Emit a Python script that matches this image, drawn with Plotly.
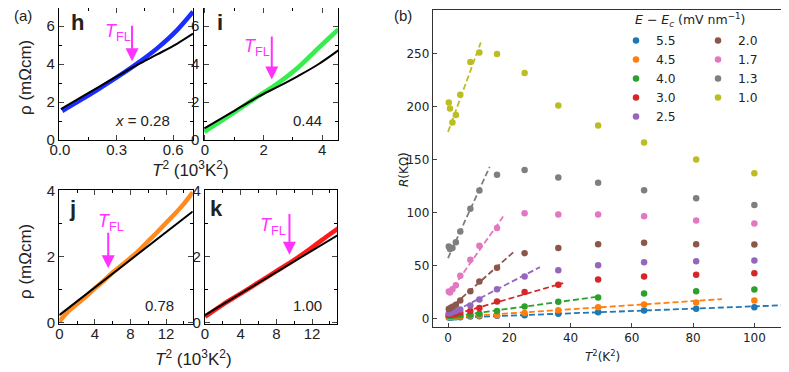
import plotly.graph_objects as go

# page is 789x372; the html body adds an 8px margin, so the figure is 8px smaller each way
OFF = 8
W, H = 789 - OFF, 372 - OFF

# ---- panel (a) data: rho vs T^2 ----
h_x = [0.012, 0.104, 0.207, 0.311, 0.414, 0.518, 0.622, 0.705]
h_rho = [1.53, 2.07, 2.7, 3.36, 4.06, 4.85, 5.8, 6.75]
h_fit_x = [0.005, 0.104, 0.207, 0.311, 0.414, 0.518, 0.622, 0.705]
h_fit = [1.62, 2.2, 2.8, 3.4, 3.98, 4.52, 5.08, 5.6]

i_x = [-0.02, 0.91, 1.82, 2.51, 3.19, 3.87, 4.55]
i_rho = [0.43, 1.36, 2.31, 3.01, 3.83, 4.84, 5.82]
i_fit_x = [-0.02, 0.91, 1.82, 2.51, 3.19, 3.87, 4.55]
i_fit = [0.61, 1.45, 2.28, 2.82, 3.38, 3.99, 4.72]

j_x = [0, 1, 2, 3, 4, 5, 6, 7, 8, 9, 10, 11, 12, 13, 14, 15]
j_rho = [0.03, 0.34, 0.57, 0.79, 1.04, 1.27, 1.52, 1.74, 1.96, 2.2, 2.47, 2.74, 3.02, 3.3, 3.6, 3.95]
j_fit_x = [0, 15]
j_fit = [0.23, 3.37]

k_x = [0, 2, 4, 6, 8, 10, 12, 14, 15]
k_rho = [0.18, 0.55, 0.88, 1.22, 1.56, 1.9, 2.28, 2.68, 2.87]
k_fit_x = [0, 15]
k_fit = [0.23, 2.67]

# T_FL arrows: (x, tip, tail)
tfl = {'h': (0.382, 4.14, 6.1), 'i': (2.28, 3.19, 5.53), 'j': (5.5, 1.65, 2.77), 'k': (9.47, 2.06, 3.34)}

# ---- panel (b) data: R vs T^2 for several fields ----
T2 = [0.25, 0.64, 1.44, 2.56, 4.0, 7.29, 10.24, 16, 25, 36, 49, 64, 81, 100]
fields = ['5.5', '4.5', '4.0', '3.0', '2.5', '2.0', '1.7', '1.3', '1.0']
colors = ['#1f77b4', '#ff7f0e', '#2ca02c', '#d62728', '#9467bd',
          '#8c564b', '#e377c2', '#7f7f7f', '#bcbd22']
R = {
    '5.5': [1.0, 1.0, 1.0, 1.1, 1.3, 1.9, 2.2, 2.5, 3.1, 4.4, 6.0, 7.5, 9.1, 10.7],
    '4.5': [1.5, 1.5, 1.6, 1.7, 2.0, 2.8, 2.8, 3.1, 5.3, 7.9, 10.7, 13.2, 15.1, 17.0],
    '4.0': [2.5, 2.5, 2.6, 2.8, 3.0, 3.8, 4.4, 7.0, 11.3, 15.7, 19.8, 23.6, 25.8, 27.4],
    '3.0': [3.5, 3.5, 4.0, 4.5, 5.5, 7.0, 10.0, 16.0, 25.0, 31.8, 36.8, 39.6, 41.2, 42.8],
    '2.5': [5.0, 5.0, 6.0, 7.0, 8.5, 12.3, 18.0, 27.7, 39.6, 45.6, 50.3, 53.0, 54.0, 54.7],
    '2.0': [9.0, 9.7, 11.0, 13.0, 17.0, 25.8, 35.0, 48.0, 61.6, 66.4, 70.0, 71.4, 70.0, 69.8],
    '1.7': [25.5, 24.5, 27.7, 31.4, 40.3, 55.4, 68.6, 85.3, 99.4, 98.0, 98.0, 96.5, 92.5, 89.6],
    '1.3': [67.9, 65.5, 66.4, 72.0, 82.0, 103.5, 120.8, 135.5, 140.0, 133.0, 128.0, 121.0, 113.5, 107.0],
    '1.0': [203.8, 198.0, 185.0, 192.0, 211.0, 242.0, 251.0, 249.5, 231.5, 201.0, 182.0, 166.0, 150.0, 137.0],
}
# dashed low-T fits, start/end in (T^2, R)
fit_x = {'5.5': [0, 110], '4.5': [0, 89.4], '4.0': [0, 49.4], '3.0': [0, 37.6], '2.5': [0, 30],
         '2.0': [0, 21.6], '1.7': [0, 18], '1.3': [0, 13.6], '1.0': [0, 10.7]}
fit_R = {'5.5': [0.5, 12.6], '4.5': [1.0, 18.3], '4.0': [1.5, 20.8], '3.0': [2.0, 33.4], '2.5': [3.5, 48.5],
         '2.0': [8.0, 63.2], '1.7': [22.4, 96.2], '1.3': [57.0, 143.0], '1.0': [176.0, 260.4]}


# page pixel -> paper fraction
def px(x):
    return min(1, max(0, (x - OFF) / W))


def py(y):
    return min(1, max(0, 1 - (y - OFF) / H))


fig = go.Figure()

ARIAL = 'Liberation Sans, Arial'
DEJAVU = 'DejaVu Sans'
MAG = '#ff33ff'

panels = [
    ('', h_x, h_rho, h_fit_x, h_fit, '#1a2cff'),
    ('2', i_x, i_rho, i_fit_x, i_fit, '#33ee4d'),
    ('3', j_x, j_rho, j_fit_x, j_fit, '#ff8a1f'),
    ('4', k_x, k_rho, k_fit_x, k_fit, '#ff1a1a'),
]
for n, xs, ys, fx, fy, c in panels:
    fig.add_trace(go.Scatter(x=xs, y=ys, mode='lines', line=dict(color=c, width=4.5, shape='spline'),
                             xaxis='x' + n, yaxis='y' + n, showlegend=False, hoverinfo='skip'))
    fig.add_trace(go.Scatter(x=fx, y=fy, mode='lines', line=dict(color='black', width=2, shape='spline'),
                             xaxis='x' + n, yaxis='y' + n, showlegend=False, hoverinfo='skip'))

# panel (b) scatter + fits
col2 = ['2.0', '1.7', '1.3', '1.0']
for f, c in zip(fields, colors):
    fig.add_trace(go.Scatter(x=fit_x[f], y=fit_R[f], mode='lines', line=dict(color=c, width=1.8, dash='6px,3px'),
                             xaxis='x5', yaxis='y5', showlegend=False, hoverinfo='skip'))
for f, c in zip(fields, colors):
    fig.add_trace(go.Scatter(x=T2, y=R[f], mode='markers', name=f, marker=dict(color=c, size=6.5),
                             xaxis='x5', yaxis='y5', legend='legend2' if f in col2 else 'legend'))


def a_axis(dom, rng, dtick, fmt='', standoff=0):
    return dict(domain=dom, range=rng, dtick=dtick, tick0=0, tickformat=fmt, ticks='inside', ticklen=5,
                tickwidth=1, mirror='allticks', showline=True, linecolor='black', linewidth=1.3,
                showgrid=False, zeroline=False, tickfont=dict(family=ARIAL, size=15, color='#222'),
                minor=dict(ticks='inside', ticklen=3, dtick=dtick / 2, tickcolor='black'),
                ticklabelstandoff=standoff, automargin=False)


def b_axis(dom, rng, dtick):
    return dict(domain=dom, range=rng, dtick=dtick, tick0=0, ticks='inside', ticklen=4,
                showline=True, linecolor='#333', mirror=True, showgrid=False, zeroline=False,
                tickfont=dict(family=DEJAVU, size=12, color='#222'), automargin=False)


top = [py(140), py(8)]
bot = [py(324), py(190)]
lay = dict(
    width=W, height=H, margin=dict(l=0, r=0, t=0, b=0, pad=0, autoexpand=False),
    paper_bgcolor='white', plot_bgcolor='white',
    xaxis=a_axis([px(59), px(193)], [-0.005, 0.705], 0.3, '.1f', -4),
    yaxis=a_axis(top, [0, 6.95], 2),
    xaxis2=a_axis([px(203.5), px(338.3)], [-0.05, 4.55], 2, '', -4),
    yaxis2=a_axis(top, [0, 6.95], 2),
    xaxis3=a_axis([px(59.3), px(192.7)], [0, 15.0], 4, '', -4),
    yaxis3=a_axis(bot, [-0.04, 4.02], 2),
    xaxis4=a_axis([px(205), px(337)], [0, 14.8], 4, '', -4),
    yaxis4=a_axis(bot, [-0.04, 4.02], 2),
    xaxis5=b_axis([px(432.7), px(785)], [-5, 110], 20),
    yaxis5=b_axis([py(327), py(10)], [-8, 291], 50),
    legend=dict(x=px(616), y=py(26), xanchor='left', yanchor='top', bgcolor='rgba(0,0,0,0)',
                font=dict(family=DEJAVU, size=12.3, color='#222'), tracegroupgap=0),
    legend2=dict(x=px(698), y=py(26), xanchor='left', yanchor='top', bgcolor='rgba(0,0,0,0)',
                 font=dict(family=DEJAVU, size=12.3, color='#222'), tracegroupgap=0),
)
for k in ['', '2', '3', '4', '5']:
    lay['xaxis' + k]['anchor'] = 'y' + k
    lay['yaxis' + k]['anchor'] = 'x' + k
fig.update_layout(**lay)

ann = []
# T_FL arrows and labels
tfl_lbl = {'h': ('', 0.307, 5.64), 'i': ('2', 1.78, 4.86), 'j': ('3', 5.8, 3.03), 'k': ('4', 7.64, 2.91)}
for key, (n, lx, ly) in tfl_lbl.items():
    ax_, tip, tail = tfl[key]
    ann.append(dict(x=ax_, y=tip, ax=ax_, ay=tail, xref='x' + n, yref='y' + n, axref='x' + n, ayref='y' + n,
                    showarrow=True, arrowhead=2, arrowsize=1.3, arrowwidth=2, arrowcolor=MAG, text=''))
    ann.append(dict(x=lx, y=ly, xref='x' + n, yref='y' + n, showarrow=False, xanchor='center', yanchor='middle',
                    text='<i>T</i><sub>FL</sub>', font=dict(family=ARIAL, size=18, color=MAG)))

txt = [
    ('(a)', 23, 15, 15, ARIAL, 0),
    ('(b)', 403, 15, 15, ARIAL, 0),
    ('<b>h</b>', 77, 23, 22, ARIAL, 0),
    ('<b>i</b>', 220, 23, 22, ARIAL, 0),
    ('<b>j</b>', 72, 208, 22, ARIAL, 0),
    ('<b>k</b>', 216, 208, 22, ARIAL, 0),
    ('<i>x</i> = 0.28', 142, 120, 15, ARIAL, 0),
    ('0.44', 307, 120, 15, ARIAL, 0),
    ('0.78', 159, 305, 15, ARIAL, 0),
    ('1.00', 307, 305, 15, ARIAL, 0),
    ('ρ (mΩcm)', 25, 78, 17, ARIAL, -90),
    ('ρ (mΩcm)', 25, 262, 17, ARIAL, -90),
    ('<i>T</i><sup>2</sup> (10<sup>3</sup>K<sup>2</sup>)', 190, 169, 17, ARIAL, 0),
    ('<i>T</i><sup>2</sup> (10<sup>3</sup>K<sup>2</sup>)', 193, 358, 17, ARIAL, 0),
    ('<i>T</i><sup>2</sup>(K<sup>2</sup>)', 602, 356, 12, DEJAVU, 0),
    ('<i>R</i>(KΩ)', 404, 170, 12, DEJAVU, -90),
    ('<i>E</i> − <i>E</i><sub><i>c</i></sub> (mV nm<sup>−1</sup>)', 690, 20, 12.5, DEJAVU, 0),
]
for t, x, y, s, fam, ang in txt:
    ann.append(dict(x=px(x), y=py(y), xref='paper', yref='paper', text=t, showarrow=False, textangle=ang,
                    xanchor='center', yanchor='middle', font=dict(family=fam, size=s, color='#222')))
fig.update_layout(annotations=ann)

fig.write_html("out.html")
